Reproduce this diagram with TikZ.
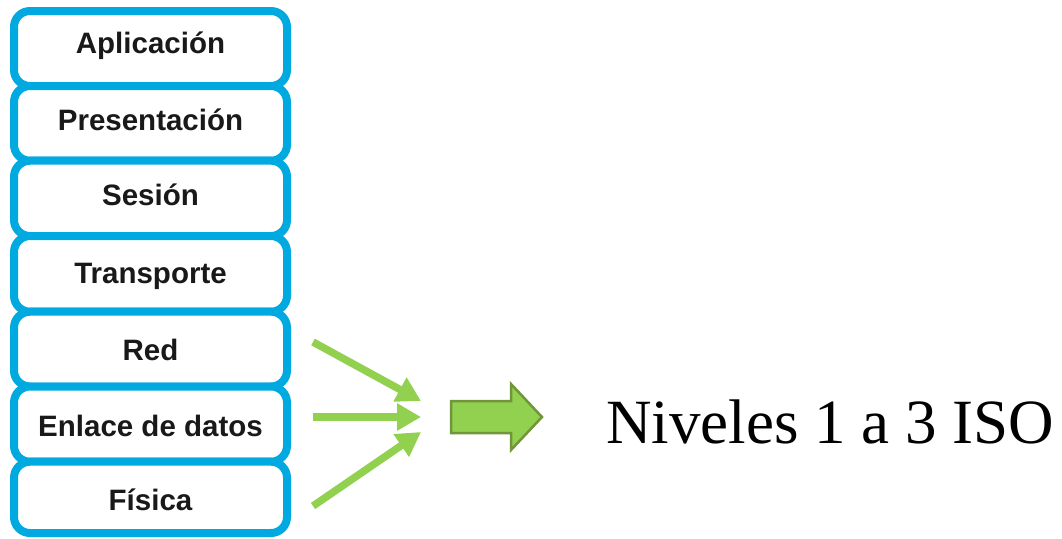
\documentclass[tikz,border=0pt]{standalone}
\usepackage{fontspec}
\setmainfont{Liberation Serif}
\newfontfamily\arialfont{Liberation Sans}
\usetikzlibrary{arrows.meta}
\definecolor{ciscoblue}{RGB}{0,169,224}
\definecolor{lgreen}{RGB}{146,208,80}
\definecolor{dgreen}{RGB}{113,150,58}
\tikzset{
  layerbox/.style={draw=ciscoblue, line width=8pt, rounded corners=16pt, fill=white},
  layertext/.style={font=\arialfont\bfseries\fontsize{29.5}{31}\selectfont, text=black!90, anchor=base},
  garrow/.style={draw=lgreen, line width=7.5pt, -{Triangle[length=24pt,width=26pt]}},
}
\begin{document}
\begin{tikzpicture}[x=1pt,y=-1pt]
\useasboundingbox (0,0) rectangle (1062,538);
\foreach \a/\b in {11/86,86/160.7,160.7/236,236/311.7,311.7/386.5,386.5/461.7,461.7/533}{
  \draw[layerbox] (14,\a) rectangle (287,\b);
}
\foreach \y/\t/\nm in {53/Aplicación/l1,130/Presentación/l2,205.5/Sesión/l3,283/Transporte/l4,360/Red/l5,436.7/Enlace de datos/l6,510/Física/l7}{
  \node[layertext] (\nm) at (150.5,\y) {\t};
}
\coordinate (s1) at (313,342);
\coordinate (t1) at (421,401);
\coordinate (s2) at (313,417);
\coordinate (t2) at (421,417);
\coordinate (s3) at (313,506);
\coordinate (t3) at (421,432);
\draw[garrow] (s1) -- (t1);
\draw[garrow] (s2) -- (t2);
\draw[garrow] (s3) -- (t3);
\draw[fill=lgreen, draw=dgreen, line width=2.5pt, line join=miter]
  (451,401) -- (511,401) -- (511,384) -- (542,417) -- (511,450) -- (511,433) -- (451,433) -- cycle;
\node[anchor=base west, inner sep=0pt, font=\fontsize{63}{70}\selectfont] (lbl) at (606,443) {Niveles 1 a 3 ISO};
\end{tikzpicture}
\end{document}
